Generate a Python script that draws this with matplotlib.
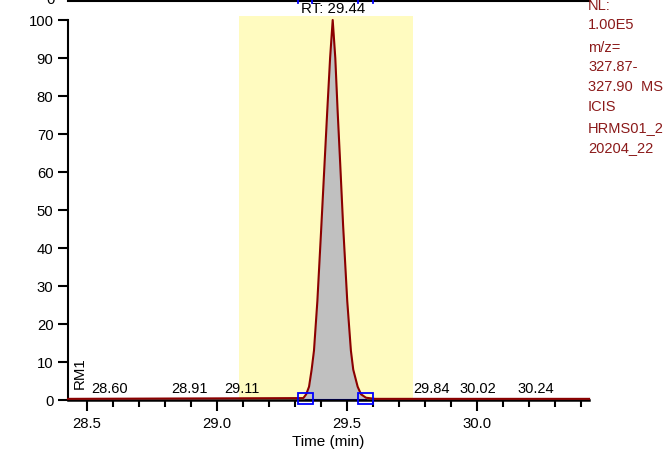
import numpy as np
import matplotlib as mtp
mtp.use('Agg')
import matplotlib.pyplot as plt
from matplotlib.patches import Rectangle
from matplotlib.lines import Line2D

plt.rcParams['font.family'] = ['Liberation Sans', 'DejaVu Sans']

# DATA
trace_t = [28.427, 29.332, 29.343, 29.354, 29.364, 29.373, 29.386, 29.400, 29.412, 29.424,
           29.435, 29.445, 29.455, 29.464, 29.474, 29.485, 29.501, 29.515, 29.524, 29.541,
           29.554, 29.573, 29.608, 30.431]
trace_y = [0.3, 0.5, 1.5, 3.5, 8, 13, 26, 44, 60, 76,
           90, 100, 90, 76, 62, 46, 26, 13, 8, 3.5,
           1.5, 0.6, 0.3, 0.3]
peak_start, peak_end = 29.342, 29.573
window = (29.085, 29.754)
label_times = [28.60, 28.91, 29.11, 29.84, 30.02, 30.24]
rt_label = "RT: 29.44"
rt_time = 29.445
info_lines = ["NL:", "1.00E5", "m/z=", "327.87-", "327.90  MS", "ICIS", "HRMS01_2", "20204_22"]
info_y = [6, 25, 48, 67, 87, 107, 128, 148]   # posisi piksel dari atas

W, H = 671, 453
fig = plt.figure(figsize=(W / 100, H / 100), dpi=100)
ax = fig.add_axes([68 / W, (H - 400) / H, 521 / W, 383.8 / H])
ax.set_xlim(28.4269, 30.4308)
ax.set_ylim(0, 101)

red = '#8b0000'
blue = '#0000ff'

ax.axvspan(window[0], window[1], color='#fffbc0', zorder=0, lw=0)

t = np.array(trace_t)
y = np.array(trace_y)
mask = (t >= peak_start - 0.012) & (t <= peak_end + 0.002)
ax.fill_between(t[mask], y[mask], 0, color='#c0c0c0', lw=0, zorder=1)
ax.plot([peak_start, peak_end], [0, 0], color=blue, lw=1.5, zorder=2, clip_on=False)
ax.plot(t, y, color=red, lw=1.5, zorder=3, clip_on=False)

# kotak batas integrasi
sq_w, sq_h = 15 / 260, 11 / 3.8
for xc in [peak_start, peak_end]:
    ax.add_patch(Rectangle((xc - sq_w / 2, -1.13), sq_w, sq_h, fill=False,
                           edgecolor=blue, lw=1.3, zorder=4, clip_on=False))

for lt in label_times:
    ax.text(lt - 0.015, 1.8, f"{lt:.2f}", ha='center', va='baseline', fontsize=10.5)
ax.text(rt_time, 103, rt_label, ha='center', va='center', fontsize=10.8, clip_on=False)
ax.text(28.473, 7, "RM1", rotation=90, ha='center', va='center', fontsize=10.8)

# sumbu
for s in ['top', 'right']:
    ax.spines[s].set_visible(False)
ax.spines['left'].set_bounds(0, 100)
ax.spines['left'].set_linewidth(1.5)
ax.spines['bottom'].set_linewidth(1.8)
ax.set_yticks(range(0, 101, 10))
ax.set_xticks([28.5, 29.0, 29.5, 30.0])
ax.set_xticklabels(["28.5", "29.0", "29.5", "30.0"])
ax.set_xticks(np.arange(28.6, 30.45, 0.1), minor=True)
ax.tick_params(axis='y', length=7, width=1.5, pad=3.5, labelsize=10.7)
ax.tick_params(axis='x', which='major', length=8, width=1.5, pad=4, labelsize=10.7)
ax.tick_params(axis='x', which='minor', length=5, width=1.5)
ax.set_xlabel("Time (min)", fontsize=11, labelpad=3)

# sisa panel atas yang terpotong
fig.add_artist(Line2D([68 / W, 590 / W], [1 - 0.8 / H, 1 - 0.8 / H], color='black', lw=1.5))
fig.text(55 / W, 1.0, "0", ha='right', va='center', fontsize=10.7)
for px in [298, 312, 358, 373]:
    fig.add_artist(Line2D([px / W, px / W], [1, 1 - 3 / H], color=blue, lw=1.3))

for txt, py in zip(info_lines, info_y):
    fig.text(588 / W, 1 - py / H, txt, ha='left', va='center', fontsize=10.5, color='#8b1a1a')

fig.savefig("out.png", dpi=100)
